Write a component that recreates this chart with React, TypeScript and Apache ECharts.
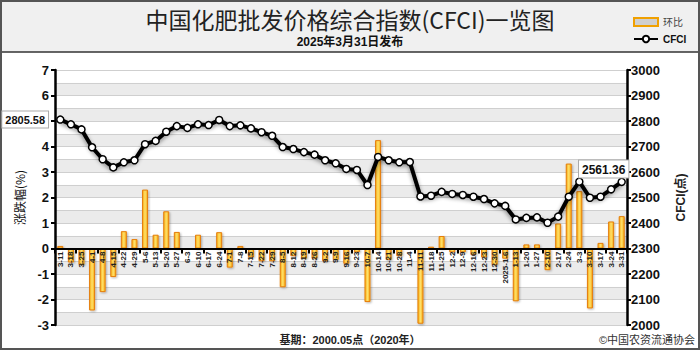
import React, { useEffect, useRef } from "react";
import * as echarts from "echarts";

const categories = ['3-11','3-18','3-25','4-1','4-8','4-15','4-22','4-29','5-6','5-13','5-20','5-27','6-3','6-10','6-17','6-24','7-1','7-8','7-15','7-22','7-29','8-5','8-12','8-19','8-26','9-2','9-9','9-16','9-23','10-7','10-14','10-21','10-28','11-4','11-11','11-18','11-25','12-2','12-9','12-16','12-23','12-30','2025-1-6','1-13','1-20','1-27','2-10','2-17','2-24','3-3','3-10','3-17','3-24','3-31'];

const cfciValues = [2805.58, 2787, 2767, 2697, 2650, 2618, 2638, 2646, 2709, 2722, 2758, 2780, 2773, 2787, 2784, 2804, 2780, 2783, 2771, 2756, 2742, 2698, 2690, 2678, 2668, 2646, 2634, 2612, 2608, 2549, 2659, 2646, 2638, 2639, 2504, 2507, 2522, 2514, 2510, 2503, 2494, 2477, 2467, 2414, 2420, 2422, 2401, 2425, 2503, 2562, 2499, 2503, 2532, 2561.36];

const changeValues = [0.1, -0.55, -0.65, -2.43, -1.71, -1.12, 0.68, 0.37, 2.31, 0.54, 1.46, 0.65, -0.05, 0.54, -0.02, 0.64, -0.75, 0.1, -0.35, -0.5, -0.5, -1.52, -0.3, -0.4, -0.4, -0.5, -0.45, -0.6, -0.15, -2.1, 4.25, -0.45, -0.3, 0.03, -2.95, 0.07, 0.49, -0.15, -0.15, -0.25, -0.35, -0.65, -0.4, -2.07, 0.16, 0.16, -0.85, 0.98, 3.33, 2.25, -2.35, 0.22, 1.06, 1.27];

const titleText = "中国化肥批发价格综合指数(CFCI)一览图";
const subtitleText = "2025年3月31日发布";
const baseText = "基期：2000.05点（2020年）";
const copyrightText = "©中国农资流通协会";

const FONT = '"Liberation Sans", Arial, "Noto Sans CJK SC", sans-serif';

// plot frame
const GL = 55, GR = 73, GT = 70, GB = 25;
const Y_MIN = -3, Y_MAX = 7;
const zeroFromBottom = GB + (0 - Y_MIN) / (Y_MAX - Y_MIN) * (350 - GT - GB);

export default function App() {
  const ref = useRef<HTMLDivElement>(null);
  useEffect(() => {
    document.body.style.margin = "0";
    if (!ref.current) return;
    const chart = echarts.init(ref.current, undefined, { renderer: "svg" });
    const lastIdx = cfciValues.length - 1;
    const lineData = cfciValues.map((v, i) => {
      if (i === 0) {
        return {
          value: v,
          label: {
            show: true, position: "left", distance: 8,
            formatter: "2805.58",
            backgroundColor: "#fff", borderColor: "#aaa", borderWidth: 1,
            padding: [3, 3, 2, 3], fontSize: 11, fontWeight: "bold", color: "#111",
          },
        };
      }
      if (i === lastIdx) {
        return {
          value: v,
          label: {
            show: true, position: "top", distance: 4, offset: [-18, 4],
            formatter: "2561.36",
            backgroundColor: "#fff", borderColor: "#aaa", borderWidth: 1,
            padding: [3, 3, 2, 3], fontSize: 12, fontWeight: "bold", color: "#111",
          },
        };
      }
      return v;
    });
    const option: any = {
      animation: false,
      textStyle: { fontFamily: FONT },
      graphic: [
        { type: "rect", z: -10, shape: { x: 0, y: 0, width: 700, height: 52 }, style: { fill: "#f0f0f0" } },
        { type: "line", z: 10, shape: { x1: 0, y1: 52, x2: 700, y2: 52 }, style: { stroke: "#333", lineWidth: 1.5 } },
        { type: "rect", z: 10, shape: { x: 1, y: 1, width: 698, height: 348 }, style: { fill: "none", stroke: "#555", lineWidth: 2 } },
        {
          type: "text", x: 350, y: 19, z: 10,
          style: { text: titleText, fontSize: 23, fontFamily: '"Noto Sans CJK SC", sans-serif', fill: "#222", align: "center", verticalAlign: "middle" },
        },
        {
          type: "text", x: 350, y: 42, z: 10,
          style: { text: subtitleText, fontSize: 12, fontWeight: "bold", fontFamily: FONT, fill: "#111", align: "center", verticalAlign: "middle" },
        },
        {
          type: "text", x: 350, y: 340, z: 10,
          style: { text: baseText, fontSize: 11, fontWeight: "bold", fontFamily: FONT, fill: "#222", align: "center", verticalAlign: "middle" },
        },
        {
          type: "text", x: 695, y: 340, z: 10,
          style: { text: copyrightText, fontSize: 11, fontFamily: FONT, fill: "#333", align: "right", verticalAlign: "middle" },
        },
      ],
      legend: {
        orient: "vertical",
        left: 628, top: 12,
        itemWidth: 24, itemHeight: 8, itemGap: 7,
        data: [
          { name: "环比", icon: "rect", itemStyle: { color: "#cfcfcf", borderColor: "#f0a000", borderWidth: 2 }, textStyle: { color: "#444", fontSize: 10 } },
          { name: "CFCI", textStyle: { color: "#111", fontSize: 10, fontWeight: "bold" } },
        ],
      },
      grid: [
        { left: GL, right: GR, top: GT, bottom: GB, containLabel: false, outerBoundsMode: "none" },
        { left: GL, right: GR, top: GT, bottom: zeroFromBottom, containLabel: false, outerBoundsMode: "none" },
      ],
      xAxis: [
        {
          type: "category", gridIndex: 0,
          data: categories,
          boundaryGap: true,
          axisLine: { show: false },
          axisTick: { show: false },
          axisLabel: { show: false },
          splitLine: { show: false },
        },
        {
          type: "category", gridIndex: 1,
          data: categories,
          boundaryGap: true,
          position: "bottom",
          z: 10,
          axisLine: { show: true, onZero: false, lineStyle: { color: "#000", width: 2 } },
          axisTick: { show: true, interval: 1, length: 5, lineStyle: { color: "#000", width: 2 } },
          axisLabel: { show: true, interval: 0, rotate: 90, fontSize: 8, fontWeight: "bold", color: "#222", margin: 3 },
          splitLine: { show: false },
        },
      ],
      yAxis: [
        {
          type: "value", gridIndex: 0, min: Y_MIN, max: Y_MAX, interval: 1, position: "left",
          name: "涨跌幅(%)", nameLocation: "middle", nameGap: 30, nameRotate: 90,
          nameTextStyle: { fontSize: 12, color: "#111", fontFamily: '"Noto Sans CJK SC", sans-serif' },
          axisLine: { show: true, lineStyle: { color: "#000", width: 2.5 } },
          axisTick: { show: true, length: 4, lineStyle: { color: "#000", width: 2 } },
          axisLabel: {
            fontSize: 13, fontWeight: "bold", color: "#111", margin: 6,
            formatter: (v: number) => (v === 5 ? "" : String(v)),
          },
          splitLine: { show: false },
        },
        {
          type: "value", gridIndex: 0, min: 2000, max: 3000, interval: 100, position: "right",
          name: "CFCI(点)", nameLocation: "middle", nameGap: 48, nameRotate: 90,
          nameTextStyle: { fontSize: 12, fontWeight: "bold", color: "#222", fontFamily: FONT },
          axisLine: { show: true, lineStyle: { color: "#000", width: 2.5 } },
          axisTick: { show: true, length: 4, lineStyle: { color: "#000", width: 2 } },
          axisLabel: { fontSize: 13, fontWeight: "bold", color: "#111", margin: 4, formatter: (v: number) => String(v) },
          splitLine: { show: false },
        },
        {
          type: "value", gridIndex: 0, min: Y_MIN, max: Y_MAX, interval: 0.5, position: "left",
          axisLine: { show: false }, axisTick: { show: false }, axisLabel: { show: false },
          splitLine: { show: true, lineStyle: { color: "#cfcfcf", width: 1 } },
          splitArea: { show: true, areaStyle: { color: ["#ebebeb", "#ffffff"] } },
        },
        {
          type: "value", gridIndex: 1, min: 0, max: 1, show: false,
          splitLine: { show: false }, splitArea: { show: false },
        },
      ],
      series: [
        {
          name: "环比",
          type: "bar",
          xAxisIndex: 0,
          yAxisIndex: 0,
          data: changeValues,
          barWidth: 6,
          z: 2,
          itemStyle: {
            color: new echarts.graphic.LinearGradient(0, 0, 1, 0, [
              { offset: 0, color: "#f5ad14" },
              { offset: 0.5, color: "#ffe06a" },
              { offset: 1, color: "#f5ad14" },
            ]),
            borderColor: "#e67e0a",
            borderWidth: 1,
            shadowColor: "rgba(0,0,0,0.3)",
            shadowBlur: 2,
            shadowOffsetX: 1,
            shadowOffsetY: 1,
          },
        },
        {
          name: "CFCI",
          type: "line",
          xAxisIndex: 0,
          yAxisIndex: 1,
          data: lineData,
          z: 12,
          symbol: "circle",
          symbolSize: 7,
          showAllSymbol: true,
          lineStyle: { color: "#000", width: 4, shadowColor: "rgba(0,0,0,0.45)", shadowBlur: 4, shadowOffsetY: 2 },
          itemStyle: { color: "#fff", borderColor: "#000", borderWidth: 1.5 },
          emphasis: { disabled: true },
        },
      ],
    };
    chart.setOption(option);
    return () => chart.dispose();
  }, []);
  return <div ref={ref} style={{ width: 700, height: 350 }} />;
}
